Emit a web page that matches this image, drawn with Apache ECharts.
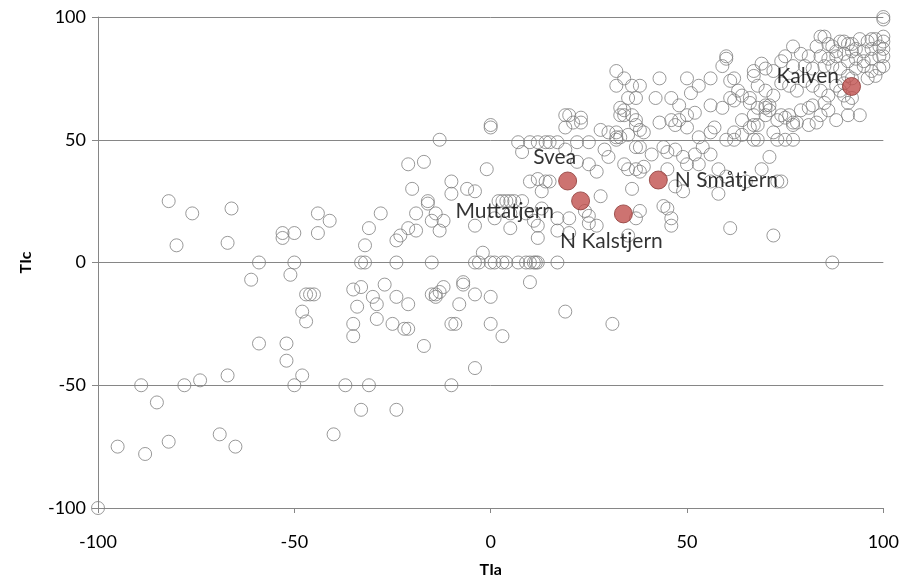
<!DOCTYPE html>
<html><head><meta charset="utf-8">
<script src="https://cdn.jsdelivr.net/npm/echarts@6/dist/echarts.min.js"></script>
<style>html,body{margin:0;padding:0;background:#fff}#c{width:902px;height:583px}</style>
</head><body><div id="c"></div><script>
// Reference lakes: [TIa, TIc]
const referenceLakes = [
[-100,-100],[-95,-75],[-88,-78],[-82,-73],[-89,-50],[-85,-57],[-78,-50],[-74,-48],[-67,-46],[-69,-70],[-65,-75],
[-82,25],[-76,20],[-66,22],[-80,7],[-67,8],[-61,-7],[-59,0],[-59,-33],[-52,-33],[-52,-40],[-50,-50],[-48,-46],
[-53,12],[-53,10],[-50,12],[-50,0],[-51,-5],[-47,-13],[-46,-13],[-45,-13],[-48,-20],[-47,-24],
[-44,20],[-44,12],[-41,17],[-40,-70],[-37,-50],[-35,-25],[-35,-30],[-35,-11],[-33,-10],[-34,-18],[-33,0],[-32,0],
[-33,-60],[-32,7],[-31,-50],[-31,14],[-30,-14],[-29,-17],[-29,-23],[-28,20],[-27,-9],
[-24,-60],[-24,0],[-24,-14],[-25,-25],[-24,9],[-23,11],[-21,-17],[-22,-27],[-21,-27],[-21,14],[-19,13],
[-21,40],[-20,30],[-19,20],[-17,41],[-17,-34],[-16,24],[-16,25],[-15,0],[-15,-13],[-14,-14],[-14,-13],[-13,-12],
[-12,-10],[-14,20],[-15,17],[-12,17],[-13,13],[-13,50],[-10,-50],[-10,-25],[-9,-25],[-8,-17],[-10,33],[-10,28],
[-7,-9],[-7,-8],[-6,30],[-4,29],[-4,15],[-4,-13],[-4,0],[-3,0],[-4,-43],[-2,4],[0,0],[0,-14],[0,-25],[-1,38],[0,56],[0,55]
];
const middleLakes = [
[3,-30],[10,-8],[19,-20],[31,-25],
[1,0],[3,0],[4,0],[7,0],[9,0],[10,0],[11,0],[11.5,0],[12,0],[17,0],
[2,25],[3,25],[4,25],[5,25],[6,25],[8,25],
[1,18],[5,20],[9,20],[11,17],[13,22],[12,15],[12,10],[5,14],
[12,34],[14,33],[15,33],[13,29],[10,33],
[17,13],[20,12],[25,16],[27,15],[24,21],[25,19],[17,18],[20,18],[28,27],[22,41],[25,40],[27,37],
[8,45],[19,46],[29,46],[30,43],
[7,49],[10,49],[12,49],[14,49],[15,49],[17,49],[22,49],[25,49],[32,50],
[19,60],[20,60],[23,59],[23,57],[19,55],[21,57],
[28,54],[30,53],[32,53],[32,51],[33,51],[35,52],[38,54],[39,53]
];
const upperLakes = [
[32,78],[34,75],[32,72],[36,72],[38,72],[35,67],[37,67],[33,63],[34,62],[33,60],[34,60],[36,60],[37,56],[37,58],
[43,75],[42,67],[46,67],[48,64],[50,75],[53,72],[51,69],[56,75],[56,64],[59,63],[61,67],[61,74],[62,75],[60,84],[60,83],[59,80],
[50,60],[52,61],[43,57],[46,58],[47,56],[48,58],[50,55],[57,55],
[62,53],[62,50],[68,50],[73,50],[75,50],[77,50],[68,56],[67,56],[72,53],[67,60],[71,64],[70,63],[71,62],[74,60],[75,59],
[77,57],[78,57],[77,56],[81,56],[83,57],[81,63],[82,64],[91,65],[91,60],[94,60],
[69,81],[74,82],[67,78],[67,76],
[77,88],[84,92],[85,92],[83,88],[86,89],[87,88],[89,90],[90,90],[91,89],[92,89],[94,91],[96,90],[97,91],[98,91],[100,92],[100,90],
[93,87],[95,86],[97,87],[99,88],[100,87],[88,86],[90,85],[92,86],[100,100],[100,99],
[75,84],[79,85],[81,84],[84,84],[86,83],[88,84],[91,82],[93,83],[95,82],[97,83],[99,84],[100,84],
[70,79],[72,78],[77,80],[80,80],[82,79],[85,80],[87,80],[89,79],[93,79],[95,80],[97,78],[99,79],[100,80],[96,75],[98,76],
[91,76],[92,75],[90,73],
[63,70],[64,68],[66,67],[68,72],[70,70],[72,68],[74,73],[76,72],[78,70],[80,74],[82,72],[84,70],[86,68],[88,72],[89,70],
[90,68],[92,67],[66,65],[68,63],[70,64],[62,66],[64,58],[66,55],[70,60],[73,58],[76,60],[79,62],[84,60],[86,62],[88,58],[85,65],
[60,50],[64,52],[67,50],[56,53],[53,51]
];
const lowerRightLakes = [
[37,47],[38,47],[44,47],[47,46],[41,44],[45,45],[49,43],[52,44],[54,47],[56,44],[53,40],[50,40],[45,38],[58,38],[60,35],
[56,33],[71,43],[73,33],[69,38],[65,33],[47,31],[49,29],[36,30],[34,40],[35,38],[37,38],[39,39],[38,37],[58,28],
[61,14],[72,11],[87,0],[44,23],[45,22],[46,18],[46,15],[37,18],[35,11],[38,21],[74,33]
];
const namedLakes = ['Svea', 'Muttatjern', 'N Kalstjern', 'N Småtjern', 'Kalven'];
const namedTIa = [19.6, 22.9, 33.8, 42.7, 91.9];
const namedTIc = [33.2, 25.1, 19.8, 33.6, 71.7];
const axisTicks = [-100, -50, 0, 50, 100];

const labelPlacement = {
  'Svea': {position: 'top', offset: [-13, 1]},
  'Muttatjern': {position: 'left', offset: [-12, 10]},
  'N Kalstjern': {position: 'bottom', offset: [-12, 2]},
  'N Småtjern': {position: 'right', offset: [2, 0]},
  'Kalven': {position: 'left', offset: [2, -10]}
};

const allLakes = referenceLakes.concat(middleLakes, upperLakes, lowerRightLakes);
const namedData = namedLakes.map((n, i) => ({
  name: n, value: [namedTIa[i], namedTIc[i]],
  label: Object.assign({show: true, formatter: n}, labelPlacement[n])
}));

const FONT = 'Lato, "Noto Sans", sans-serif';
const chart = echarts.init(document.getElementById('c'), null, {renderer: 'canvas'});
chart.setOption({
  animation: false,
  backgroundColor: '#fff',
  grid: {left: 98, right: 18, top: 17, bottom: 72, containLabel: false},
  xAxis: {
    type: 'value', min: axisTicks[0], max: axisTicks[axisTicks.length - 1], interval: 50,
    name: 'TIa', nameLocation: 'middle', nameGap: 54,
    nameTextStyle: {fontFamily: FONT, fontSize: 16, fontWeight: 'bold', color: '#000'},
    axisLine: {show: true, onZero: false, lineStyle: {color: '#868686', width: 1}},
    axisTick: {show: true, length: 5, lineStyle: {color: '#868686'}},
    axisLabel: {fontFamily: FONT, fontSize: 18, color: '#000', margin: 25},
    splitLine: {show: false}
  },
  yAxis: {
    type: 'value', min: axisTicks[0], max: axisTicks[axisTicks.length - 1], interval: 50,
    name: 'TIc', nameLocation: 'middle', nameGap: 64,
    nameTextStyle: {fontFamily: FONT, fontSize: 16, fontWeight: 'bold', color: '#000'},
    axisLine: {show: true, onZero: false, lineStyle: {color: '#868686', width: 1}},
    axisTick: {show: true, length: 6, lineStyle: {color: '#868686'}},
    axisLabel: {fontFamily: FONT, fontSize: 18, color: '#000', margin: 12},
    splitLine: {show: true, lineStyle: {color: '#868686', width: 1}}
  },
  series: [
    {
      type: 'scatter', data: allLakes, symbol: 'circle', symbolSize: 13,
      itemStyle: {color: 'rgba(0,0,0,0)', borderColor: '#7f7f7f', borderWidth: 1},
      silent: true, z: 2
    },
    {
      type: 'scatter', data: namedData, symbol: 'circle', symbolSize: 18,
      itemStyle: {color: '#c0504d', borderColor: '#8c3836', borderWidth: 1},
      label: {fontFamily: FONT, fontSize: 21, color: '#000', distance: 5},
      silent: true, z: 3
    }
  ]
});
</script></body></html>
